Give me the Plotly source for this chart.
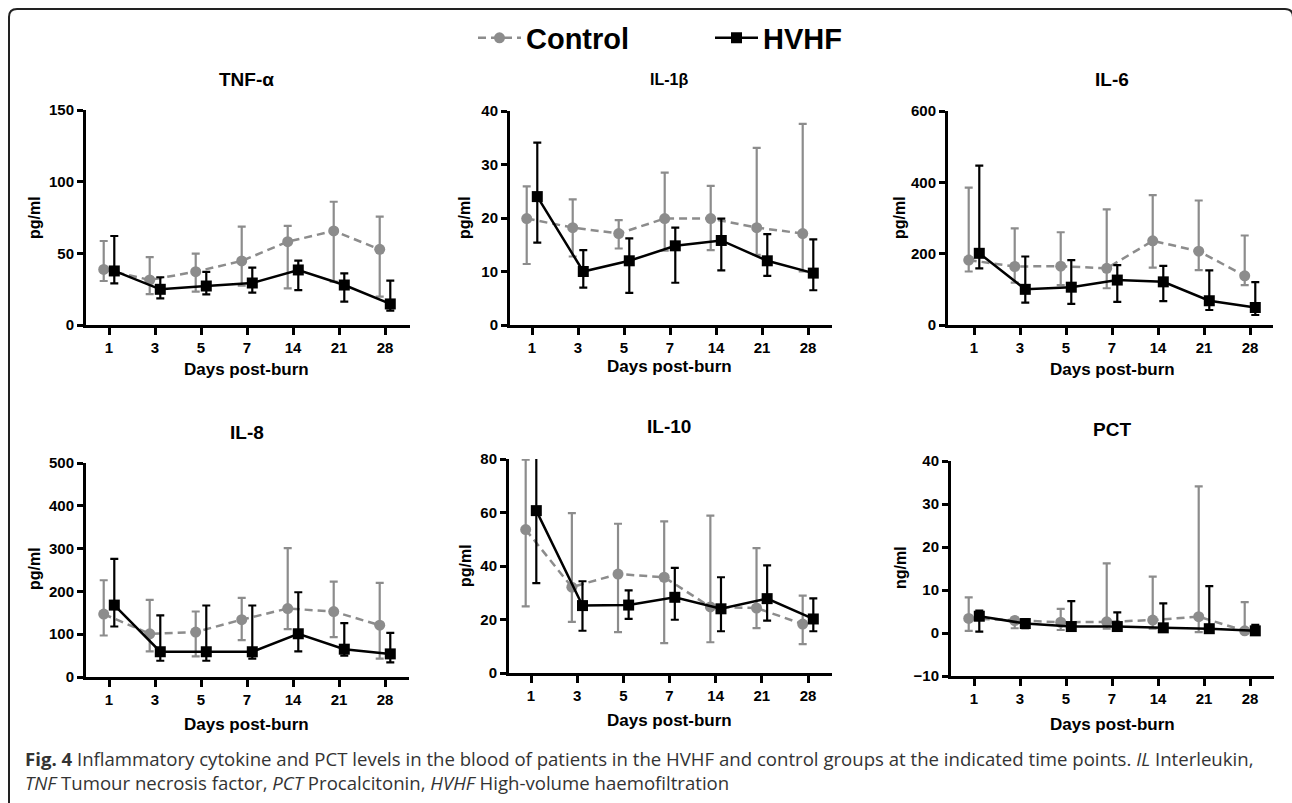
import plotly.graph_objects as go

# ---------------- data ----------------
days = ["1", "3", "5", "7", "14", "21", "28"]

tnf_ctrl_mean = [38.8, 31.4, 37.2, 44.7, 58.1, 65.6, 52.8]
tnf_ctrl_hi = [58.6, 47.4, 49.8, 68.6, 69.1, 86.0, 75.6]
tnf_ctrl_lo = [30.7, 21.6, 23.3, 27.4, 25.6, 30.2, 19.8]
tnf_hvhf_mean = [37.7, 24.9, 27.2, 29.3, 38.4, 27.9, 14.7]
tnf_hvhf_hi = [62.1, 33.3, 37.0, 40.0, 44.9, 36.0, 30.9]
tnf_hvhf_lo = [29.1, 18.6, 21.4, 22.6, 24.4, 16.3, 10.0]

il1b_ctrl_mean = [19.9, 18.2, 17.1, 19.9, 19.9, 18.2, 17.1]
il1b_ctrl_hi = [25.9, 23.5, 19.6, 28.5, 26.0, 33.1, 37.6]
il1b_ctrl_lo = [11.4, 12.8, 14.3, 13.9, 14.0, 13.1, 10.0]
il1b_hvhf_mean = [24.0, 10.0, 12.0, 14.8, 15.8, 12.0, 9.7]
il1b_hvhf_hi = [34.1, 14.0, 16.2, 18.2, 19.9, 17.0, 16.0]
il1b_hvhf_lo = [15.4, 7.0, 6.0, 7.9, 10.2, 9.2, 6.5]

il6_ctrl_mean = [182, 164, 165, 159, 236, 207, 138]
il6_ctrl_hi = [385, 271, 260, 324, 364, 349, 251]
il6_ctrl_lo = [150, 119, 112, 103, 161, 154, 112]
il6_hvhf_mean = [201, 100, 106, 126, 121, 68, 49]
il6_hvhf_hi = [447, 192, 182, 168, 166, 153, 120]
il6_hvhf_lo = [159, 63, 59, 65, 67, 42, 28]

il8_ctrl_mean = [147, 101, 105, 134, 160, 153, 121]
il8_ctrl_hi = [226, 180, 153, 185, 301, 223, 220]
il8_ctrl_lo = [97, 60, 48, 86, 112, 93, 43]
il8_hvhf_mean = [168, 59, 59, 59, 101, 65, 54]
il8_hvhf_hi = [276, 144, 167, 167, 198, 126, 103]
il8_hvhf_lo = [118, 38, 38, 43, 60, 50, 34]

il10_ctrl_mean = [53.6, 32.1, 37.0, 35.8, 24.7, 24.3, 18.3]
il10_ctrl_hi = [79.8, 59.8, 55.8, 56.7, 58.8, 46.7, 28.9]
il10_ctrl_lo = [24.9, 19.1, 15.3, 11.2, 11.5, 16.8, 10.8]
il10_hvhf_mean = [60.7, 25.2, 25.4, 28.3, 24.0, 27.8, 20.2]
il10_hvhf_hi = [86.0, 34.3, 30.9, 39.3, 35.8, 40.2, 27.9]
il10_hvhf_lo = [33.6, 15.8, 20.2, 19.9, 15.6, 19.6, 15.6]

pct_ctrl_mean = [3.4, 2.9, 2.5, 2.6, 3.0, 3.8, 0.5]
pct_ctrl_hi = [8.3, 3.6, 5.6, 16.2, 13.1, 34.1, 7.2]
pct_ctrl_lo = [0.5, 1.1, 0.7, 1.0, 1.0, 0.2, 0.0]
pct_hvhf_mean = [3.9, 2.2, 1.5, 1.5, 1.2, 1.0, 0.5]
pct_hvhf_hi = [5.2, 3.2, 7.4, 4.8, 6.9, 10.9, 1.9]
pct_hvhf_lo = [0.3, 1.1, 1.0, 1.0, 0.85, 0.7, 0.2]

panel_titles = ["TNF-α", "IL-1β", "IL-6", "IL-8", "IL-10", "PCT"]
units = ["pg/ml", "pg/ml", "pg/ml", "pg/ml", "pg/ml", "ng/ml"]
y_ranges = [(0, 150, 50), (0, 40, 10), (0, 600, 200), (0, 500, 100), (0, 80, 20), (-10, 40, 10)]

panels = [
    (tnf_ctrl_mean, tnf_ctrl_hi, tnf_ctrl_lo, tnf_hvhf_mean, tnf_hvhf_hi, tnf_hvhf_lo),
    (il1b_ctrl_mean, il1b_ctrl_hi, il1b_ctrl_lo, il1b_hvhf_mean, il1b_hvhf_hi, il1b_hvhf_lo),
    (il6_ctrl_mean, il6_ctrl_hi, il6_ctrl_lo, il6_hvhf_mean, il6_hvhf_hi, il6_hvhf_lo),
    (il8_ctrl_mean, il8_ctrl_hi, il8_ctrl_lo, il8_hvhf_mean, il8_hvhf_hi, il8_hvhf_lo),
    (il10_ctrl_mean, il10_ctrl_hi, il10_ctrl_lo, il10_hvhf_mean, il10_hvhf_hi, il10_hvhf_lo),
    (pct_ctrl_mean, pct_ctrl_hi, pct_ctrl_lo, pct_hvhf_mean, pct_hvhf_hi, pct_hvhf_lo),
]

# ---------------- layout geometry (pixels) ----------------
W, H = 1292, 803
# (left, right, top, bottom, first tick px, last tick px)
geom = [
    (86, 410, 110, 325, 109, 385),
    (510, 832, 111, 325, 532, 808),
    (948, 1273, 111, 325, 974, 1250),
    (86, 409, 463, 677, 109, 385),
    (509, 832, 459, 673, 531, 808),
    (951, 1274, 461, 676, 974, 1250),
]
title_pos = [(247, 80, 19), (669, 80, 16), (1112, 80, 19), (247, 432, 19), (669, 426, 19), (1112, 429, 19)]
ytitle_pos = [(35, 218), (465, 218), (900, 218), (34, 569), (465, 566), (900, 568)]
xtitle_pos = [(246, 369), (669, 366), (1112, 369), (246, 724), (669, 720), (1112, 724)]


def px(x):
    return x / W


def py(y):
    return 1 - y / H


GRAY = "#8c8c8c"
FONT = "Liberation Sans, Arial, sans-serif"
offset = 0.115

fig = go.Figure()
annotations = []
for k, (cm, ch, cl, hm, hh, hl) in enumerate(panels):
    n = "" if k == 0 else str(k + 1)
    xs_c = [i - offset for i in range(len(days))]
    xs_h = [i + offset for i in range(len(days))]
    fig.add_trace(go.Scatter(
        x=xs_c, y=cm, mode="lines+markers", name="Control",
        legendgroup="c", showlegend=(k == 0),
        line=dict(color=GRAY, width=2.5, dash="8px,5px"),
        marker=dict(symbol="circle", size=11, color=GRAY),
        error_y=dict(type="data", symmetric=False,
                     array=[h - m for h, m in zip(ch, cm)],
                     arrayminus=[m - l for m, l in zip(cm, cl)],
                     color=GRAY, thickness=2.2, width=4),
        xaxis="x" + n, yaxis="y" + n, cliponaxis=False,
    ))
    fig.add_trace(go.Scatter(
        x=xs_h, y=hm, mode="lines+markers", name="HVHF",
        legendgroup="h", showlegend=(k == 0),
        line=dict(color="black", width=2.5),
        marker=dict(symbol="square", size=11, color="black"),
        error_y=dict(type="data", symmetric=False,
                     array=[h - m for h, m in zip(hh, hm)],
                     arrayminus=[m - l for m, l in zip(hm, hl)],
                     color="black", thickness=2.2, width=4),
        xaxis="x" + n, yaxis="y" + n, cliponaxis=False,
    ))

    left, right, top, bottom, t0, t6 = geom[k]
    sp = (t6 - t0) / 6
    xr = [(left - t0) / sp, (right - t0) / sp]
    y0, y1, dy = y_ranges[k]
    ax_common = dict(showline=True, linewidth=3, linecolor="black", ticks="outside",
                     tickwidth=2.5, tickcolor="black", showgrid=False, zeroline=False,
                     automargin=False,
                     tickfont=dict(family=FONT, size=15, color="black", weight="bold"))
    fig.update_layout(**{
        "xaxis" + n: dict(domain=[px(left), px(right)], range=xr, anchor="y" + n,
                          tickvals=list(range(len(days))), ticktext=days, ticklen=7,
                          fixedrange=True, **ax_common),
        "yaxis" + n: dict(domain=[py(bottom), py(top)], range=[y0, y1], anchor="x" + n,
                          tickvals=list(range(y0, y1 + 1, dy)), ticklen=6,
                          fixedrange=True, **ax_common),
    })

    tx, ty, ts = title_pos[k]
    annotations.append(dict(text=panel_titles[k], x=px(tx), y=py(ty), xref="paper", yref="paper",
                            showarrow=False, xanchor="center", yanchor="middle",
                            font=dict(family=FONT, size=ts, color="black", weight="bold")))
    ux, uy = ytitle_pos[k]
    annotations.append(dict(text=units[k], x=px(ux), y=py(uy), xref="paper", yref="paper",
                            showarrow=False, xanchor="center", yanchor="middle", textangle=-90,
                            font=dict(family=FONT, size=16, color="black", weight="bold")))
    dx_, dy_ = xtitle_pos[k]
    annotations.append(dict(text="Days post-burn", x=px(dx_), y=py(dy_), xref="paper", yref="paper",
                            showarrow=False, xanchor="center", yanchor="middle",
                            font=dict(family=FONT, size=17, color="black", weight="bold")))

CAP_FONT = "Open Sans, Noto Sans, sans-serif"
annotations.append(dict(
    text=("<b>Fig. 4</b> Inflammatory cytokine and PCT levels in the blood of patients in the HVHF and "
          "control groups at the indicated time points. <i>IL</i> Interleukin,<br>"
          "<i>TNF</i> Tumour necrosis factor, <i>PCT</i> Procalcitonin, <i>HVHF</i> High-volume haemofiltration"),
    x=px(23), y=py(744), xref="paper", yref="paper", showarrow=False, xanchor="left", yanchor="top",
    align="left", font=dict(family=CAP_FONT, size=18.6, color="#333333")))

# rounded frame
x0b, y0b, x1b, y1b, r = px(9), py(9), px(1293), py(815), 8
rx, ry = r / W, r / H
path = (f"M {x0b + rx},{y0b} L {x1b - rx},{y0b} Q {x1b},{y0b} {x1b},{y0b - ry} "
        f"L {x1b},{y1b + ry} Q {x1b},{y1b} {x1b - rx},{y1b} L {x0b + rx},{y1b} "
        f"Q {x0b},{y1b} {x0b},{y1b + ry} L {x0b},{y0b - ry} Q {x0b},{y0b} {x0b + rx},{y0b} Z")

fig.update_layout(
    width=W, height=H, margin=dict(l=0, r=0, t=0, b=0, autoexpand=False),
    paper_bgcolor="white", plot_bgcolor="white",
    annotations=annotations,
    shapes=[dict(type="path", path=path, xref="paper", yref="paper",
                 line=dict(color="#222222", width=2), fillcolor="rgba(0,0,0,0)", layer="below")],
    legend=dict(orientation="h", x=px(473), xanchor="left", y=py(38), yanchor="middle",
                font=dict(family=FONT, size=29, color="black", weight="bold"),
                itemwidth=43, entrywidth=179, entrywidthmode="pixels", bgcolor="rgba(0,0,0,0)"),
    showlegend=True,
)

fig.write_html(
    "out.html",
    config={"displayModeBar": False},
    post_script=(
        "var st=document.createElement('style');"
        "st.textContent='html,body{margin:0!important;padding:0!important;width:1292px;height:803px;overflow:hidden;}';"
        "document.head.appendChild(st);"
        "var gd=document.getElementsByClassName('plotly-graph-div')[0];"
        "gd.style.position='absolute';gd.style.left='0px';gd.style.top='0px';"
    ),
)
